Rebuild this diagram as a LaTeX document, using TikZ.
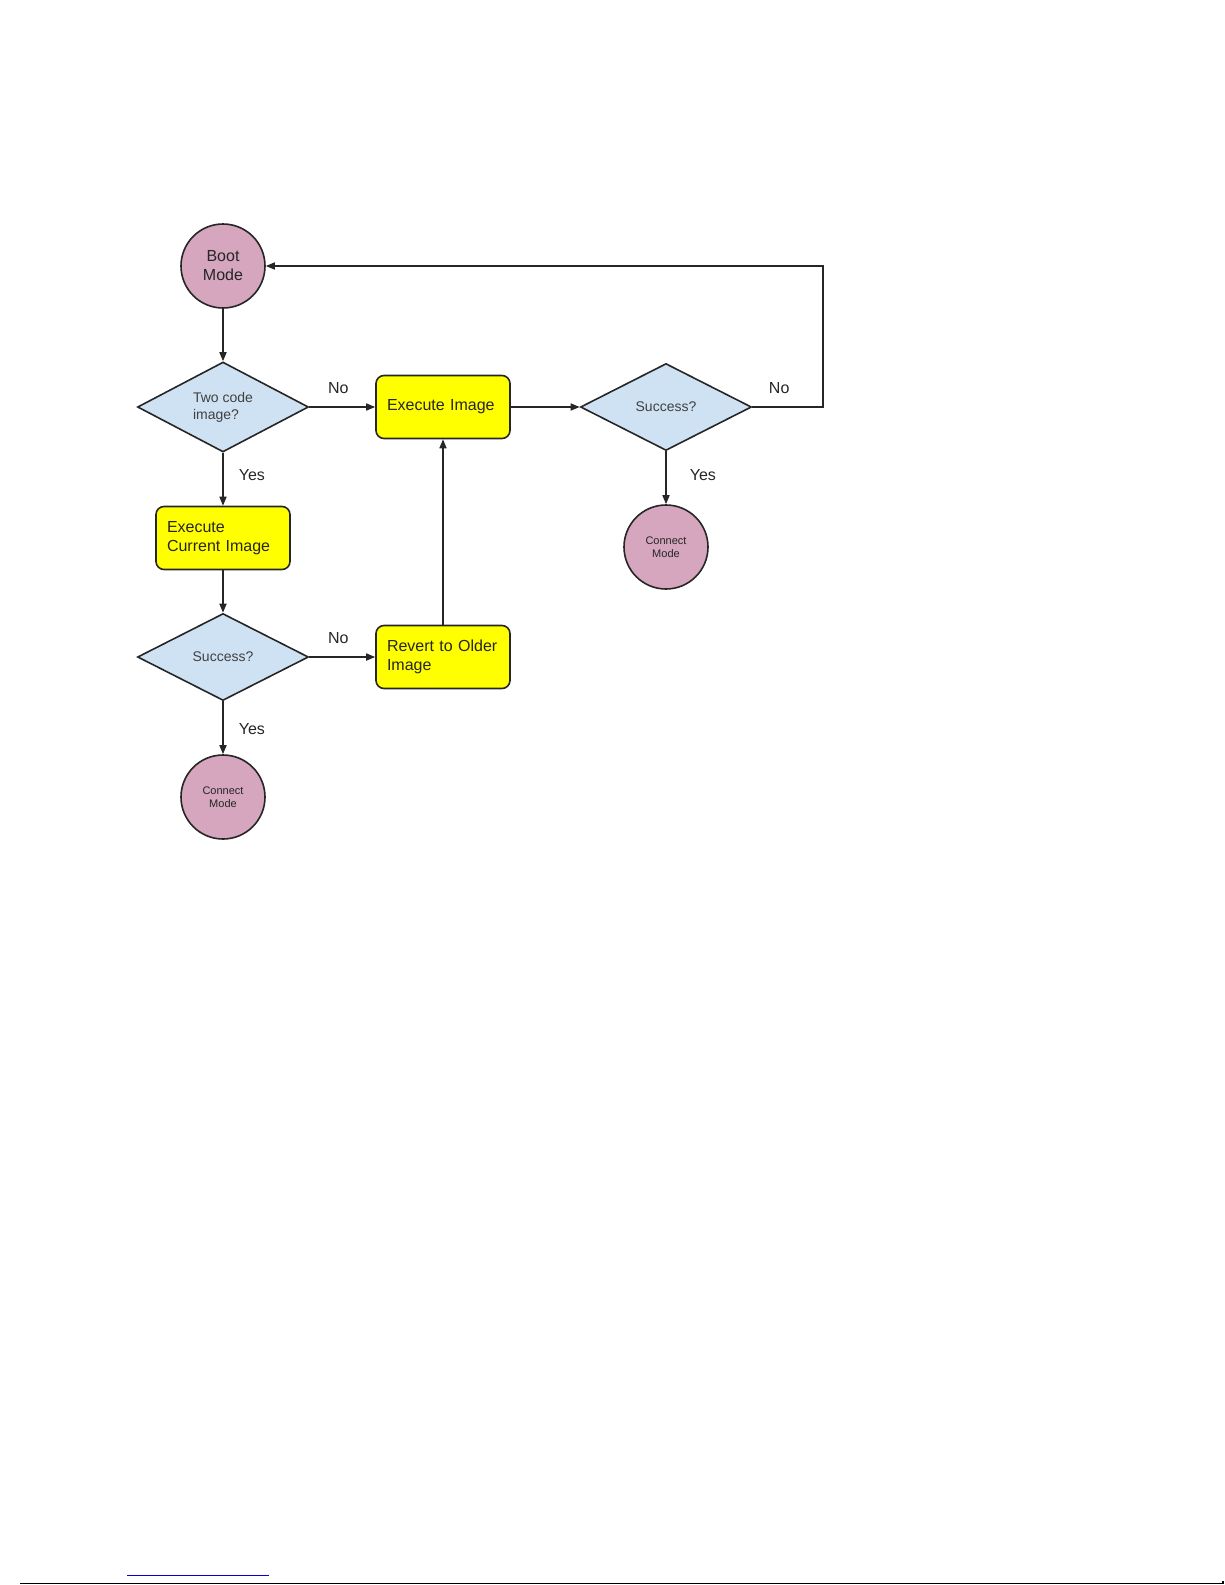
\documentclass[tikz,border=0pt]{standalone}
\usepackage{fontspec}
\setmainfont{Liberation Sans}
\usetikzlibrary{positioning, shapes.geometric, arrows.meta}

\definecolor{bootpink}{HTML}{D5A6BD}
\definecolor{askblue}{HTML}{CFE2F3}
\definecolor{runyellow}{HTML}{FFFF00}

\tikzset{
  modecirc/.style={circle, draw=black!85, line width=1.6pt,
    fill=bootpink, minimum size=84pt, inner sep=0pt, align=center,
    text=black!85},
  askdiam/.style={diamond, draw=black!85, line width=1.6pt,
    fill=askblue, minimum width=171pt, minimum height=87pt,
    inner sep=0pt, align=left, text=black!75,
    font=\fontsize{14}{17}\selectfont},
  runbox/.style={rectangle, rounded corners=8pt, draw=black!85,
    line width=1.6pt, fill=runyellow, minimum width=134pt,
    minimum height=63pt, text width=112pt, align=left, inner sep=0pt,
    text=black!85, font=\fontsize{16}{19.5}\selectfont},
  flow/.style={-{Triangle[length=9pt,width=7pt]}, line width=1.6pt,
    draw=black!85},
  lbl/.style={inner sep=0pt, text=black!85,
    font=\fontsize{16}{19}\selectfont},
}

\begin{document}
\begin{tikzpicture}[x=1pt, y=-1pt]

    \useasboundingbox (0,0) rectangle (1225,1585);
    \fill[white] (0,0) rectangle (1225,1585);

    % left column
    \node[modecirc, font=\fontsize{16}{19}\selectfont] (boot) at (223,266) {Boot\\Mode};
    \node[askdiam] (two) at (223,407) {Two code\\image?};
    \node[runbox] (cur) at (223,538) {Execute\\Current Image};
    \node[askdiam] (succL) at (223,657) {Success?};
    \node[modecirc, font=\fontsize{11}{13.5}\selectfont] (conL) at (223,797) {Connect\\Mode};

    % middle and right
    \node[runbox] (exec) at (443,407) {Execute Image};
    \node[runbox] (rev) at (443,657) {Revert to Older\\Image};
    \node[askdiam] (succR) at (666,407) {Success?};
    \node[modecirc, font=\fontsize{11}{13.5}\selectfont] (conR) at (666,547) {Connect\\Mode};

    \coordinate (loop) at (823,266);

    \draw[flow] (boot) -- (two);
    \draw[flow] (two.east) -- (exec.west)
      node[lbl, pos=0.44, above=13pt] (no1) {No};
    \draw[flow] (two.south) -- (cur.north)
      node[lbl, pos=0.42, right=15pt] (yes1) {Yes};
    \draw[flow] (cur.south) -- (succL.north);
    \draw[flow] (succL.east) -- (rev.west)
      node[lbl, pos=0.44, above=13pt] (no2) {No};
    \draw[flow] (succL.south) -- (conL.north)
      node[lbl, pos=0.52, right=15pt] (yes2) {Yes};
    \draw[flow] (rev.north) -- (exec.south);
    \draw[flow] (exec.east) -- (succR.west);
    \draw[flow] (succR.south) -- (conR.north)
      node[lbl, pos=0.45, right=23pt] (yes3) {Yes};
    \draw[flow] (succR.east) -| (loop)
      node[lbl, pos=0.19, above=13pt] (no3) {No}
      -- (boot.east);

    % page marks
    \draw[blue!90!black, line width=1pt] (127,1575.5) -- (269,1575.5);
    \draw[black, line width=1.5pt] (20,1583.5) -- (1223,1583.5) -- (1223,1580.5);
\end{tikzpicture}
\end{document}
